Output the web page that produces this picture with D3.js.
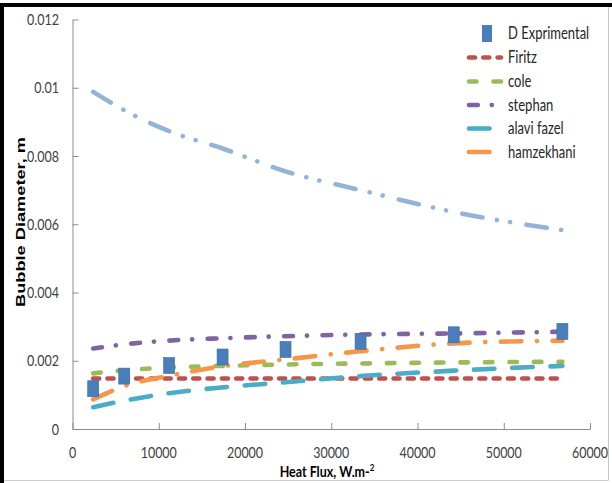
<!DOCTYPE html>
<html>
<head>
<meta charset="utf-8">
<script src="https://cdn.jsdelivr.net/npm/d3@7"></script>
<style>
  html, body { margin: 0; padding: 0; background: #fff; }
  svg { display: block; }
</style>
</head>
<body>
<svg id="chart" width="612" height="483"></svg>
<script>
// ---------- data ----------
const heatFlux = [2400, 6000, 11200, 17400, 24700, 33400, 44200, 56800];
const experimental = [0.00118, 0.00155, 0.00186, 0.00211, 0.00233, 0.00257, 0.00276, 0.00286];
const firitz      = [0.00148, 0.00148, 0.00148, 0.00148, 0.00148, 0.00148, 0.00148, 0.00148];
const cole        = [0.00163, 0.00172, 0.00180, 0.00185, 0.00189, 0.00192, 0.00195, 0.00197];
const stephan     = [0.00236, 0.00248, 0.00259, 0.00266, 0.00272, 0.00277, 0.00280, 0.00285];
const alaviFazel  = [0.00064, 0.00083, 0.00105, 0.00122, 0.00137, 0.00155, 0.00171, 0.00185];
const hamzekhani  = [0.00087, 0.00126, 0.00156, 0.00184, 0.00204, 0.00228, 0.00251, 0.00259];
const unlabeled   = [0.00988, 0.00934, 0.00873, 0.00822, 0.00755, 0.00700, 0.00636, 0.00583];

const xTickValues = [0, 10000, 20000, 30000, 40000, 50000, 60000];
const xTickLabels = ["0", "10000", "20000", "30000", "40000", "50000", "60000"];
const yTickValues = [0, 0.002, 0.004, 0.006, 0.008, 0.010, 0.012];
const yTickLabels = ["0", "0.002", "0.004", "0.006", "0.008", "0.01", "0.012"];

const legendNames = ["D Exprimental", "Firitz", "cole", "stephan", "alavi fazel", "hamzekhani"];

// ---------- styles ----------
const LW = 4.6;
const lineSeries = [
  { name: "unlabeled",   values: unlabeled,  color: "#95B3D7", dash: "20.5,14.55,0.1,13.3,0.1,16.55" },
  { name: "Firitz",      values: firitz,     color: "#C0504D", dash: "6,8.3" },
  { name: "cole",        values: cole,       color: "#9BBB59", dash: "7.5,17" },
  { name: "stephan",     values: stephan,    color: "#8064A2", dash: "8.8,13.95,0.1,15.45" },
  { name: "alavi fazel", values: alaviFazel, color: "#4BACC6", dash: "20.5,17.8" },
  { name: "hamzekhani",  values: hamzekhani, color: "#F79646", dash: "20.5,15.55,0.1,15.55" }
];
const markerColor = "#4A7EBB";

const svg = d3.select("#chart");
const W = 612, H = 483;
svg.append("rect").attr("width", W).attr("height", H).attr("fill", "#fff");

// frame
svg.append("rect").attr("x", 0).attr("y", 3).attr("width", W).attr("height", 4).attr("fill", "#000");
svg.append("rect").attr("x", 0).attr("y", 3).attr("width", 4).attr("height", H - 3).attr("fill", "#000");
svg.append("line").attr("x1", 608.5).attr("x2", 608.5).attr("y1", 7).attr("y2", 480.5)
  .attr("stroke", "#c8c8c8").attr("stroke-width", 1);
svg.append("line").attr("x1", 4).attr("x2", 608.5).attr("y1", 480.5).attr("y2", 480.5)
  .attr("stroke", "#d0d0d0").attr("stroke-width", 1);

// scales
const x = d3.scaleLinear().domain([0, 60000]).range([72.5, 590]);
const y = d3.scaleLinear().domain([0, 0.012]).range([429, 19.5]);

const axisColor = "#8c8c8c";
const tickFont = "Lato, 'Open Sans', sans-serif";
const STRETCH = 1.3;

// x axis
const gx = svg.append("g").attr("transform", `translate(0,${y(0)})`)
  .call(d3.axisBottom(x).tickValues(xTickValues).tickSize(-6).tickSizeOuter(0).tickFormat(""));
gx.select(".domain").attr("stroke", axisColor);
gx.selectAll(".tick line").attr("stroke", axisColor);

// y axis
const gy = svg.append("g").attr("transform", `translate(${x(0)},0)`)
  .call(d3.axisLeft(y).tickValues(yTickValues).tickSize(-6).tickSizeOuter(0).tickFormat(""));
gy.select(".domain").attr("stroke", axisColor);
gy.selectAll(".tick line").attr("stroke", axisColor);

// tick labels
svg.append("g").selectAll("text").data(xTickValues).join("text")
  .attr("transform", (d) => `translate(${x(d)},458) scale(1,${STRETCH})`)
  .attr("text-anchor", "middle")
  .attr("font-family", tickFont).attr("font-size", 12.5).attr("fill", "#404040")
  .text((d, i) => xTickLabels[i]);

svg.append("g").selectAll("text").data(yTickValues).join("text")
  .attr("transform", (d) => `translate(59,${y(d) + 5.6}) scale(1,${STRETCH})`)
  .attr("text-anchor", "end")
  .attr("font-family", tickFont).attr("font-size", 12.5).attr("fill", "#404040")
  .text((d, i) => yTickLabels[i]);

// axis titles
svg.append("text")
  .attr("transform", `translate(25,222) rotate(-90) scale(1.35,1)`)
  .attr("text-anchor", "middle")
  .attr("font-family", "'Liberation Sans', Arial, sans-serif").attr("font-weight", "bold")
  .attr("font-size", 13.5).attr("fill", "#000")
  .text("Bubble Diameter, m");

const xt = svg.append("text")
  .attr("transform", `translate(327,477) scale(1,1.25)`)
  .attr("text-anchor", "middle")
  .attr("font-family", tickFont).attr("font-weight", "bold")
  .attr("font-size", 12.5).attr("fill", "#000");
xt.append("tspan").text("Heat Flux, W.m-");
xt.append("tspan").attr("dy", -5).attr("font-size", 8).text("2");

// lines
const lineGen = d3.line()
  .x((d) => x(d[0]))
  .y((d) => y(d[1]))
  .curve(d3.curveMonotoneX);

svg.append("g").selectAll("path").data(lineSeries).join("path")
  .attr("d", (s) => lineGen(heatFlux.map((h, i) => [h, s.values[i]])))
  .attr("fill", "none")
  .attr("stroke", (s) => s.color)
  .attr("stroke-width", LW)
  .attr("stroke-linecap", "round")
  .attr("stroke-dasharray", (s) => s.dash);

// experimental markers
const MW = 11, MH = 16;
svg.append("g").selectAll("rect").data(heatFlux).join("rect")
  .attr("x", (d) => x(d) - MW / 2)
  .attr("y", (d, i) => y(experimental[i]) - MH / 2)
  .attr("width", MW).attr("height", MH)
  .attr("fill", markerColor)
  .attr("stroke", "#3a6aa5").attr("stroke-width", 0.6);

// legend
const legRows = [33.5, 57.5, 81.5, 105, 128.5, 152];
const leg = svg.append("g");
leg.append("rect")
  .attr("x", 482).attr("y", legRows[0] - 8.5).attr("width", 10).attr("height", 17)
  .attr("fill", markerColor);
const legLineSeries = lineSeries.slice(1);
leg.selectAll("line.l").data(legLineSeries).join("line")
  .attr("class", "l")
  .attr("x1", 469).attr("x2", 501)
  .attr("y1", (d, i) => legRows[i + 1]).attr("y2", (d, i) => legRows[i + 1])
  .attr("stroke", (d) => d.color).attr("stroke-width", LW)
  .attr("stroke-linecap", "round")
  .attr("stroke-dasharray", (d) => d.dash);
leg.selectAll("text").data(legendNames).join("text")
  .attr("transform", (d, i) => `translate(508,${legRows[i] + 5.5}) scale(1,${STRETCH})`)
  .attr("font-family", tickFont).attr("font-size", 13).attr("fill", "#262626")
  .text((d) => d);
</script>
</body>
</html>
